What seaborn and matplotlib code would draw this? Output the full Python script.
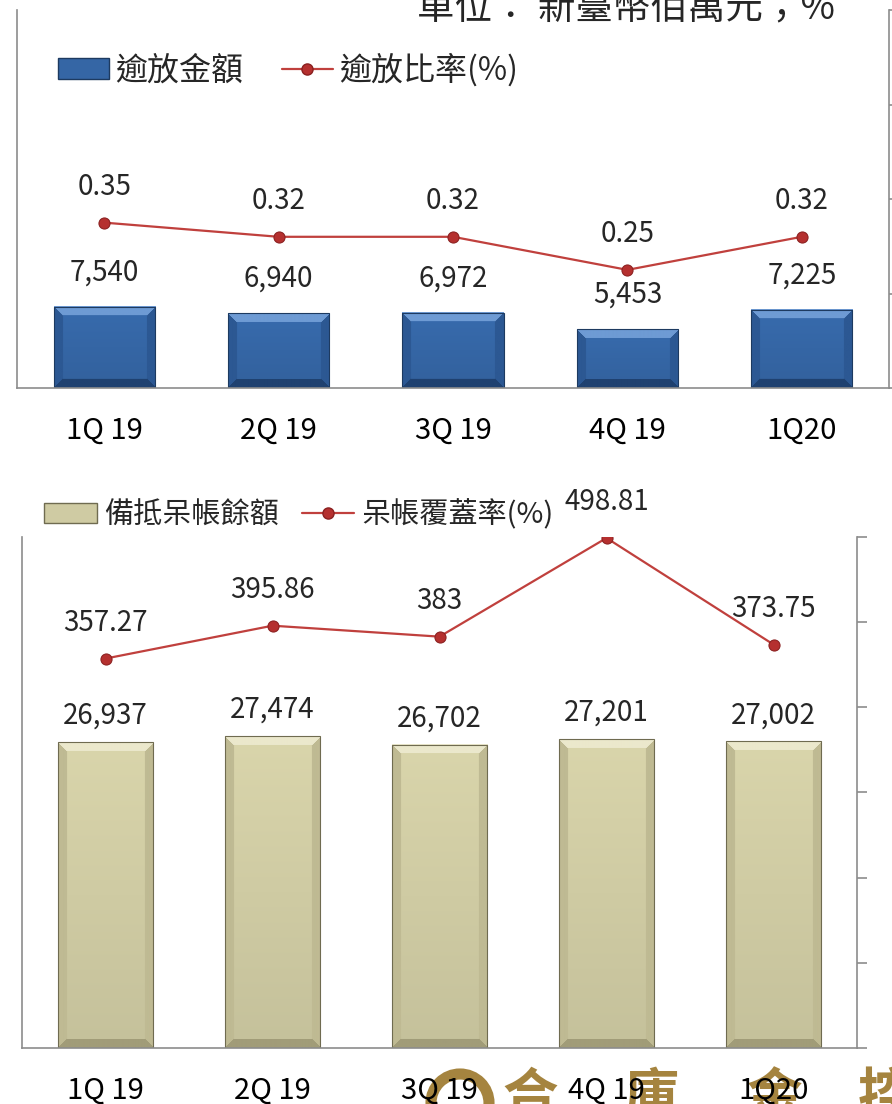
import numpy as np
import matplotlib
matplotlib.use('Agg')
import matplotlib.pyplot as plt
import seaborn as sns
from matplotlib.lines import Line2D
from matplotlib.patches import Patch, Ellipse
from matplotlib.colors import to_rgb

# data
quarters = ['1Q 19', '2Q 19', '3Q 19', '4Q 19', '1Q20']
npl_amount = [7540, 6940, 6972, 5453, 7225]
npl_ratio = [0.35, 0.32, 0.32, 0.25, 0.32]
allowance = [26937, 27474, 26702, 27201, 27002]
coverage = [357.27, 395.86, 383, 498.81, 373.75]

sns.set_style('white')
plt.rcParams['font.family'] = ['Noto Sans CJK TC', 'DejaVu Sans']

W, H = 892, 1104
BLUE = '#3566a5'
KHAKI = '#cfcba3'
RED = '#c0403d'
GRAY = '#8c8c8c'
GOLD = '#a5843f'


def bevel(ax, patch, base, light, dark, side, edge, bw=9):
    # paint a bevelled look inside a bar
    x0, y0 = patch.get_x(), patch.get_y()
    w, h = patch.get_width(), patch.get_height()
    (px0, py0), (px1, py1) = ax.transData.transform([(x0, y0), (x0 + w, y0 + h)])
    nw, nh = max(int(round(px1 - px0)), 2), max(int(round(py1 - py0)), 2)
    yy, xx = np.mgrid[0:nh, 0:nw]
    base = np.array(to_rgb(base))
    t = (yy / (nh - 1))[..., None]
    img = base * (1.05 - 0.10 * t)
    d_top, d_bot = yy, nh - 1 - yy
    d_l, d_r = xx, nw - 1 - xx
    dmin = np.minimum.reduce([d_top, d_bot, d_l, d_r])
    m = dmin < bw
    img[m & (d_top == dmin)] = to_rgb(light)
    img[m & (d_bot == dmin) & (d_top != dmin)] = to_rgb(dark)
    img[m & ((d_l == dmin) | (d_r == dmin)) & (d_top != dmin) & (d_bot != dmin)] = to_rgb(side)
    img = np.clip(img, 0, 1)
    ax.imshow(img, extent=(x0, x0 + w, y0, y0 + h), origin='upper',
              aspect='auto', zorder=2.1, interpolation='bilinear')
    patch.set_edgecolor(edge)
    patch.set_linewidth(0.8)
    patch.set_zorder(2.2)
    patch.set_facecolor('none')


def style_axes(ax, ax2):
    for s in ['top', 'right']:
        ax.spines[s].set_visible(False)
    for s in ['left', 'bottom']:
        ax.spines[s].set_color(GRAY)
        ax.spines[s].set_linewidth(1.2)
    for s in ['top', 'left', 'bottom']:
        ax2.spines[s].set_visible(False)
    ax2.spines['right'].set_color(GRAY)
    ax2.spines['right'].set_linewidth(1.2)
    ax.set_yticks([])
    ax.set_ylabel('')
    ax2.set_ylabel('')
    ax.tick_params(axis='x', length=0, pad=20, labelsize=21, colors='black')
    ax2.tick_params(axis='y', direction='out', length=7, width=1.2, color=GRAY,
                    labelright=False, right=True)
    ax.set_facecolor('none')
    ax.set_xlim(-0.5, 4.5)


fig = plt.figure(figsize=(W / 100, H / 100), dpi=100)

# ---- top panel: overdue loans
ax1 = fig.add_axes([17 / W, 1 - 388 / H, 872 / W, 378 / H])
sns.barplot(x=quarters, y=npl_amount, ax=ax1, color=BLUE, width=0.58, saturation=1)
ax1.set_ylim(0, 35000)
ax2 = ax1.twinx()
sns.lineplot(x=np.arange(len(quarters)), y=npl_ratio, ax=ax2, color=RED, lw=1.6,
             marker='o', markersize=8, markerfacecolor='#b5302f', markeredgecolor='#8a2020')
ax2.set_ylim(0, 0.8)
ax2.set_yticks([0, 0.2, 0.4, 0.6, 0.8])
style_axes(ax1, ax2)
for p in ax1.patches:
    bevel(ax1, p, BLUE, '#6e9bd4', '#1f4170', '#2c5893', '#1d3a60')
ax1.set_xlim(-0.5, 4.5)
ax1.set_ylim(0, 35000)
for p, v in zip(ax1.patches, npl_amount):
    ax1.annotate(f'{v:,}', (p.get_x() + p.get_width() / 2, p.get_height()),
                 xytext=(0, 14), textcoords='offset points', ha='center', va='bottom',
                 fontsize=20)
for i, v in enumerate(npl_ratio):
    ax2.annotate(f'{v:.2f}', (i, v), xytext=(0, 15), textcoords='offset points',
                 ha='center', va='bottom', fontsize=20)

# ---- bottom panel: allowance & coverage
ax3 = fig.add_axes([22 / W, 56 / H, 835 / W, 511 / H])
sns.barplot(x=quarters, y=allowance, ax=ax3, color=KHAKI, width=0.57, saturation=1)
ax3.set_ylim(0, 45000)
ax4 = ax3.twinx()
sns.lineplot(x=np.arange(len(quarters)), y=coverage, ax=ax4, color=RED, lw=1.6,
             marker='o', markersize=8, markerfacecolor='#b5302f', markeredgecolor='#8a2020')
ax4.set_ylim(-100, 500)
ax4.set_yticks(range(-100, 501, 100))
style_axes(ax3, ax4)
for p in ax3.patches:
    bevel(ax3, p, KHAKI, '#ebe8cc', '#a19c78', '#bfba93', '#6f6b50')
ax3.set_xlim(-0.5, 4.5)
ax3.set_ylim(0, 45000)
for p, v in zip(ax3.patches, allowance):
    ax3.annotate(f'{v:,}', (p.get_x() + p.get_width() / 2, p.get_height()),
                 xytext=(0, 8), textcoords='offset points', ha='center', va='bottom',
                 fontsize=20)
for i, v in enumerate(coverage):
    ax4.annotate(f'{v:g}', (i, v), xytext=(0, 15), textcoords='offset points',
                 ha='center', va='bottom', fontsize=20)

# ---- legends
line_handle = Line2D([], [], color=RED, lw=1.6, marker='o', markersize=8,
                     markerfacecolor='#b5302f', markeredgecolor='#8a2020')
fig.legend([Patch(facecolor=BLUE, edgecolor='#1d3a60'), line_handle], ['逾放金額', '逾放比率(%)'],
           loc='center left', bbox_to_anchor=(58 / W, 1 - 70 / H), ncol=2, frameon=False,
           fontsize=23, handlelength=1.6, handleheight=0.6, handletextpad=0.2,
           columnspacing=1.2, borderpad=0, borderaxespad=0)
fig.legend([Patch(facecolor=KHAKI, edgecolor='#6f6b50'), line_handle], ['備抵呆帳餘額', '呆帳覆蓋率(%)'],
           loc='center left', bbox_to_anchor=(44 / W, 1 - 515 / H), ncol=2, frameon=False,
           fontsize=21, handlelength=1.8, handleheight=0.65, handletextpad=0.25,
           columnspacing=0.8, borderpad=0, borderaxespad=0)

# unit note, cut by the top edge
fig.text(835 / W, 1 - 19 / H, '單位： 新臺幣佰萬元；%', ha='right', va='baseline', fontsize=27)

# company watermark at the bottom edge
fig.add_artist(Ellipse((460 / W, 1 - 1103 / H), 58 / W, 58 / H, fill=False, lw=8,
                       edgecolor=GOLD, transform=fig.transFigure, zorder=-1))
for ch, xc in zip('合庫金控', [530, 652, 775, 885]):
    fig.text(xc / W, 1 - 1070 / H, ch, ha='center', va='top', fontsize=40,
             fontweight='bold', color=GOLD, zorder=-1)

fig.savefig('out.png', dpi=100)
